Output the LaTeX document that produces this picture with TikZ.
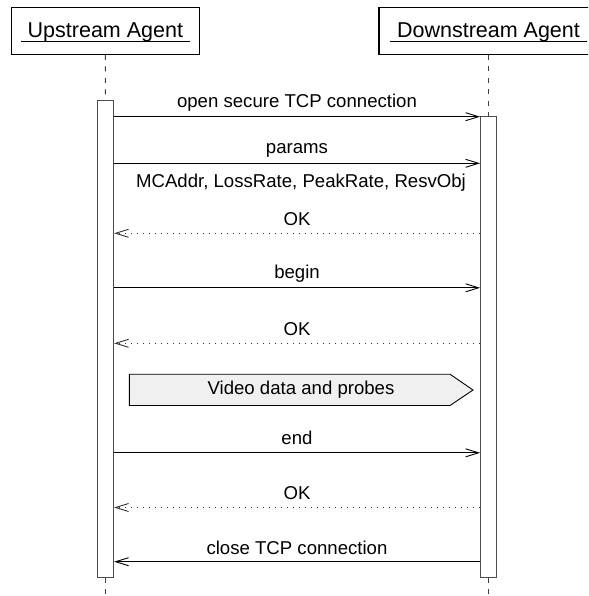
\documentclass[tikz,border=0pt]{standalone}
\usepackage{fontspec}
\setmainfont{Liberation Sans}
\usetikzlibrary{arrows.meta}
\begin{document}
\begin{tikzpicture}[x=1pt,y=-1pt,
  headbox/.style={draw=black,line width=1.3pt,fill=white,inner sep=0pt},
  headtext/.style={inner sep=0pt,anchor=base,font=\fontsize{21.5}{25}\selectfont},
  uline/.style={draw=black,line width=1pt},
  life/.style={draw=black!75,line width=1pt,dash pattern=on 5pt off 6.5pt},
  bar/.style={draw=black!70,line width=1.1pt,fill=white,inner sep=0pt,minimum width=16pt},
  msg/.style={draw=black,line width=0.9pt,-{Straight Barb[length=13pt,width=8pt,line width=0.9pt]}},
  ret/.style={draw=black!80,line width=1pt,dash pattern=on 1pt off 5pt,-{Straight Barb[length=13pt,width=8pt,line width=0.9pt,black!80]}},
  lbl/.style={inner sep=0pt,font=\fontsize{18.6}{22}\selectfont},
  flow/.style={draw=black,line width=0.9pt,fill=black!6}]
\clip (0,0) rectangle (588,596);
\useasboundingbox (0,0) rectangle (588,596);
% heads
\node[headbox,minimum width=187.5pt,minimum height=46.8pt] (up) at (105.4,30.9) {};
\node[headbox,minimum width=218pt,minimum height=46.8pt] (down) at (488,30.9) {};
\node[headtext] (uptext) at (105.4,37.7) {Upstream Agent};
\node[headtext] (downtext) at (488.5,37.7) {Downstream Agent};
\draw[uline] ([xshift=-6.5pt,yshift=-3.6pt]uptext.base west) -- ([xshift=6.5pt,yshift=-3.6pt]uptext.base east);
\draw[uline] ([xshift=-6.5pt,yshift=-3.6pt]downtext.base west) -- ([xshift=6.5pt,yshift=-3.6pt]downtext.base east);
% activation bars
\node[bar,minimum height=476.6pt] (ubar) at (105.5,339) {};
\node[bar,minimum height=460.6pt] (dbar) at (488.7,347) {};
% lifelines
\coordinate (uend) at (105.5,596);
\coordinate (dend) at (488.7,596);
\draw[life] (up.south) -- (ubar.north);
\draw[life] (ubar.south) -- (uend);
\draw[life] (down.south -| dbar.north) -- (dbar.north);
\draw[life] (dbar.south) -- (dend);
% message anchors
\foreach \n/\y in {1/116.7,2/163.3,3/233.3,4/287.8,5/343.3,6/452.8,7/507.5,8/561.7}{
  \coordinate (u\n) at (ubar.east |- 0,\y);
  \coordinate (d\n) at (dbar.west |- 0,\y);
}
\draw[msg] (u1) -- (d1);
\node[lbl] (l1) at (297,102.5) {open secure TCP connection};
\draw[msg] (u2) -- (d2);
\node[lbl] (l2) at (297,150.5) {params};
\node[lbl] (l2b) at (301,183) {MCAddr, LossRate, PeakRate, ResvObj};
\draw[ret] (d3) -- (u3);
\node[lbl] (l3) at (297,219.5) {OK};
\draw[msg] (u4) -- (d4);
\node[lbl] (l4) at (297,273.5) {begin};
\draw[ret] (d5) -- (u5);
\node[lbl] (l5) at (297,329) {OK};
% video data flow
\draw[flow] (129.3,374.2) -- (450,374.2) -- (473,390) -- (450,405.5) -- (129.3,405.5) -- cycle;
\node[lbl] (l6) at (301,390) {Video data and probes};
\draw[msg] (u6) -- (d6);
\node[lbl] (l7) at (297,438) {end};
\draw[ret] (d7) -- (u7);
\node[lbl] (l8) at (297,493) {OK};
\draw[msg] (d8) -- (u8);
\node[lbl] (l9) at (297,547.5) {close TCP connection};
\end{tikzpicture}
\end{document}
